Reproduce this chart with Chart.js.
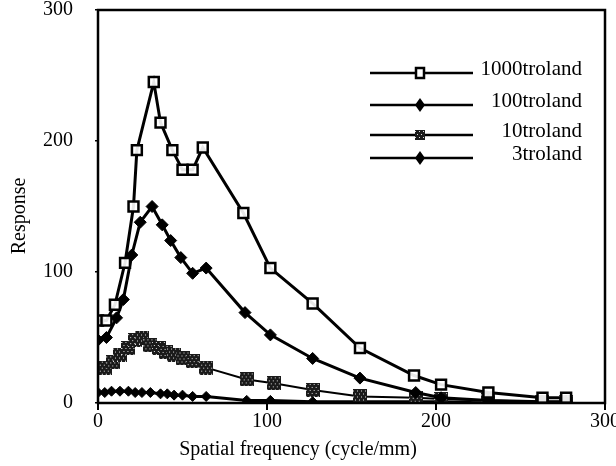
<!DOCTYPE html>
<html>
<head>
<meta charset="utf-8">
<script src="https://cdn.jsdelivr.net/npm/chart.js@4/dist/chart.umd.min.js"></script>
<style>
  html, body { margin: 0; padding: 0; background: #fff; }
  #wrap { width: 616px; height: 466px; position: relative; }
</style>
</head>
<body>
<div id="wrap"><canvas id="c" width="616" height="466"></canvas></div>
<script>
// ---- data ----
const seriesNames = ["1000troland", "100troland", "10troland", "3troland"];

const freq1000 = [0, 5, 10, 16, 21, 23, 33, 37, 44, 50, 56, 62, 86, 102, 127, 155, 187, 203, 231, 263, 277];
const resp1000 = [63, 63, 75, 107, 150, 193, 245, 214, 193, 178, 178, 195, 145, 103, 76, 42, 21, 14, 8, 4, 4];

const freq100 = [0, 5, 11, 15, 20, 25, 32, 38, 43, 49, 56, 64, 87, 102, 127, 155, 188, 203, 231, 263, 277];
const resp100 = [48, 50, 65, 79, 113, 138, 150, 136, 124, 111, 99, 103, 69, 52, 34, 19, 8, 4, 2, 1, 1];

const freq10 = [0, 4, 9, 13, 18, 22, 26, 31, 36, 40, 45, 50, 56, 64, 88, 104, 127, 155, 188, 203, 231, 263, 277];
const resp10 = [27, 27, 31, 37, 42, 48, 50, 44, 42, 39, 37, 34, 32, 27, 18, 15, 10, 5, 4, 3, 2, 1, 1];

const freq3 = [0, 4, 8, 13, 18, 22, 26, 31, 37, 41, 45, 50, 56, 64, 88, 102, 127, 155, 188, 203, 231, 263, 277];
const resp3 = [8, 8, 9, 9, 9, 8, 8, 8, 7, 7, 6, 6, 5, 5, 2, 2, 1, 1, 1, 1, 0, 0, 0];

const xTicks = [0, 100, 200, 300];
const yTicks = [0, 100, 200, 300];
const xTitle = 'Spatial frequency (cycle/mm)';
const yTitle = 'Response';

function pts(xs, ys) { return xs.map((x, i) => ({ x: x, y: ys[i] })); }

// hatched marker for 10troland
function makeHatch(size) {
  const c = document.createElement('canvas');
  c.width = size; c.height = size;
  const g = c.getContext('2d');
  g.fillStyle = '#1a1a1a';
  g.fillRect(0, 0, size, size);
  g.fillStyle = '#dddddd';
  for (let i = 1; i < size; i += 3) {
    for (let j = ((i - 1) / 3) % 2 ? 2 : 0; j < size; j += 4) {
      g.fillRect(j, i, 1, 1);
    }
  }
  return c;
}
const hatch = makeHatch(14);
const hatchSmall = makeHatch(10);

const FONT = "'Liberation Serif', 'DejaVu Serif', serif";

const frameAndLegend = {
  id: 'frameAndLegend',
  afterDraw(chart) {
    const ctx = chart.ctx;
    const a = chart.chartArea;
    ctx.save();
    ctx.strokeStyle = '#000';
    ctx.lineWidth = 2.5;
    ctx.strokeRect(a.left, a.top, a.right - a.left, a.bottom - a.top);

    // axis titles
    ctx.fillStyle = '#000';
    ctx.font = "20px " + FONT;
    ctx.textAlign = 'center';
    ctx.textBaseline = 'middle';
    ctx.fillText(xTitle, 298, 450);
    ctx.save();
    ctx.translate(20, 216);
    ctx.rotate(-Math.PI / 2);
    ctx.fillText(yTitle, 0, 0);
    ctx.restore();

    // legend
    const rows = [73, 105, 135, 158];
    const x0 = 370, x1 = 473, xm = 420, xt = 582;
    ctx.font = "21px " + FONT;
    ctx.textAlign = 'right';
    ctx.textBaseline = 'middle';
    chart.data.datasets.forEach((ds, i) => {
      const y = rows[i];
      ctx.strokeStyle = '#000';
      ctx.lineWidth = 2.5;
      ctx.beginPath(); ctx.moveTo(x0, y); ctx.lineTo(x1, y); ctx.stroke();
      if (i === 0) {
        ctx.fillStyle = '#fff';
        ctx.fillRect(xm - 4, y - 5, 8, 10);
        ctx.lineWidth = 2.5;
        ctx.strokeRect(xm - 4, y - 5, 8, 10);
      } else if (i === 2) {
        ctx.drawImage(hatchSmall, xm - 5, y - 5, 10, 10);
      } else {
        ctx.fillStyle = '#000';
        ctx.beginPath();
        ctx.moveTo(xm, y - 7); ctx.lineTo(xm + 5, y); ctx.lineTo(xm, y + 7); ctx.lineTo(xm - 5, y);
        ctx.closePath(); ctx.fill();
      }
      ctx.fillStyle = '#000';
      ctx.fillText(ds.label, xt, y - 4);
    });
    ctx.restore();
  }
};

new Chart(document.getElementById('c'), {
  type: 'line',
  data: {
    datasets: [
      {
        label: seriesNames[0], data: pts(freq1000, resp1000),
        borderColor: '#000', borderWidth: 3, backgroundColor: '#fff',
        pointStyle: 'rect', pointRadius: 7, pointBorderWidth: 2.5,
        pointBackgroundColor: 'rgba(255,255,255,0.9)', pointBorderColor: '#000', tension: 0
      },
      {
        label: seriesNames[1], data: pts(freq100, resp100),
        borderColor: '#000', borderWidth: 3, backgroundColor: '#000',
        pointStyle: 'rectRot', pointRadius: 6, pointBorderWidth: 1,
        pointBackgroundColor: '#000', pointBorderColor: '#000', tension: 0
      },
      {
        label: seriesNames[2], data: pts(freq10, resp10),
        borderColor: '#000', borderWidth: 2, backgroundColor: '#444',
        pointStyle: hatch, pointRadius: 7,
        tension: 0
      },
      {
        label: seriesNames[3], data: pts(freq3, resp3),
        borderColor: '#000', borderWidth: 3, backgroundColor: '#000',
        pointStyle: 'rectRot', pointRadius: 5, pointBorderWidth: 1,
        pointBackgroundColor: '#000', pointBorderColor: '#000', tension: 0
      }
    ]
  },
  options: {
    responsive: false,
    animation: false,
    devicePixelRatio: 1,
    layout: { padding: { left: 0, right: 11, top: 10, bottom: 0 } },
    plugins: { legend: { display: false }, tooltip: { enabled: false } },
    elements: { line: { fill: false } },
    scales: {
      x: {
        type: 'linear', min: 0, max: 300,
        afterBuildTicks: s => { s.ticks = xTicks.map(v => ({ value: v })); },
        afterFit: s => { s.height = 63; s.paddingLeft = 0; s.paddingRight = 0; },
        border: { display: false },
        grid: { display: true, drawOnChartArea: false, drawTicks: true, tickLength: 7, color: '#000', lineWidth: 2 },
        ticks: { color: '#000', font: { family: FONT, size: 20 }, padding: 0, maxRotation: 0 },
        title: { display: false }
      },
      y: {
        type: 'linear', min: 0, max: 300,
        afterBuildTicks: s => { s.ticks = yTicks.map(v => ({ value: v })); },
        afterFit: s => { s.width = 98; s.paddingTop = 0; s.paddingBottom = 0; },
        border: { display: false },
        grid: { display: true, drawOnChartArea: false, drawTicks: true, tickLength: 3, color: '#000', lineWidth: 1.5 },
        ticks: { color: '#000', font: { family: FONT, size: 20 }, padding: 22 },
        title: { display: false }
      }
    }
  },
  plugins: [frameAndLegend]
});
</script>
</body>
</html>
